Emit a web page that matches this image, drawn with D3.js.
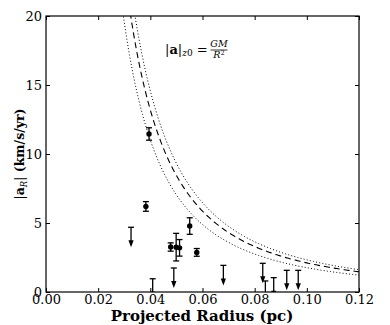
<!DOCTYPE html>
<html>
<head>
<meta charset="utf-8">
<script src="https://cdn.jsdelivr.net/npm/d3@7"></script>
<style>
  html, body { margin: 0; padding: 0; background: #fff; }
  svg { display: block; }
</style>
</head>
<body>
<svg id="chart" width="390" height="325"></svg>
<script>
// ---- data ----
const xTicks = [0.00, 0.02, 0.04, 0.06, 0.08, 0.10, 0.12];
const yTicks = [0, 5, 10, 15, 20];

// detections: projected radius (pc), |a_R| (km/s/yr), 1-sigma error
const detR   = [0.0383, 0.0395, 0.0478, 0.0499, 0.0512, 0.0551, 0.0578];
const detA   = [6.20, 11.45, 3.26, 3.25, 3.20, 4.78, 2.87];
const detErr = [0.35, 0.45, 0.30, 1.00, 0.60, 0.60, 0.28];

// upper limits
const ulR = [0.0326, 0.0409, 0.0490, 0.0680, 0.0831, 0.0841, 0.0873, 0.0923, 0.0967];
const ulA = [4.69, 0.96, 1.74, 1.93, 2.08, 0.80, 1.04, 1.57, 1.57];
const ulArrow = 1.45; // arrow length in km/s/yr

// GM/R^2 curves: coefficient (km/s/yr * pc^2)
const curveK     = [0.0176, 0.0211, 0.0233];
const curveStyle = ["dotted", "dashed", "dotted"];

// ---- layout ----
const svg = d3.select("#chart");
const L = 46, R = 359, T = 16, B = 292;
const x = d3.scaleLinear().domain([0, 0.12]).range([L, R]);
const y = d3.scaleLinear().domain([0, 20]).range([B, T]);
const serif = "DejaVu Serif";

svg.append("defs").append("clipPath").attr("id", "clip")
  .append("rect").attr("x", L).attr("y", T).attr("width", R - L).attr("height", B - T);

const plot = svg.append("g").attr("clip-path", "url(#clip)");

// curves
const rs = d3.range(0.02, 0.1205, 0.0005);
curveK.forEach((k, i) => {
  const line = d3.line().x(r => x(r)).y(r => y(k / (r * r)));
  plot.append("path")
    .attr("d", line(rs))
    .attr("fill", "none")
    .attr("stroke", "#000")
    .attr("stroke-width", curveStyle[i] === "dashed" ? 1.1 : 1)
    .attr("stroke-dasharray", curveStyle[i] === "dashed" ? "6,4" : "1,2.2");
});

// detections with error bars
detR.forEach((r, i) => {
  const cx = x(r);
  const y1 = y(detA[i] + detErr[i]), y0 = y(detA[i] - detErr[i]);
  const g = plot.append("g").attr("stroke", "#000").attr("stroke-width", 1.3);
  g.append("line").attr("x1", cx).attr("x2", cx).attr("y1", y1).attr("y2", y0);
  g.append("line").attr("x1", cx - 3).attr("x2", cx + 3).attr("y1", y1).attr("y2", y1);
  g.append("line").attr("x1", cx - 3).attr("x2", cx + 3).attr("y1", y0).attr("y2", y0);
  plot.append("circle").attr("cx", cx).attr("cy", y(detA[i])).attr("r", 2.7).attr("fill", "#000");
});

// upper limits with arrows
ulR.forEach((r, i) => {
  const cx = x(r);
  const yt = y(ulA[i]), yb = y(ulA[i] - ulArrow);
  const g = plot.append("g").attr("stroke", "#000").attr("stroke-width", 1.3);
  g.append("line").attr("x1", cx - 3).attr("x2", cx + 3).attr("y1", yt).attr("y2", yt);
  g.append("line").attr("x1", cx).attr("x2", cx).attr("y1", yt).attr("y2", yb - 4);
  plot.append("path")
    .attr("d", `M${cx - 2.6},${yb - 7} L${cx + 2.6},${yb - 7} L${cx},${yb} Z`)
    .attr("fill", "#000");
});

// axes
function styleAxis(g) {
  g.attr("font-family", serif).attr("font-size", 13);
  g.select(".domain").remove();
  g.selectAll(".tick line").attr("stroke", "#000").attr("stroke-width", 1);
  g.selectAll("text").attr("fill", "#000");
}
svg.append("g").attr("transform", `translate(0,${B})`)
  .call(d3.axisBottom(x).tickValues(xTicks).tickFormat(d3.format(".2f")).tickSizeInner(-4).tickSizeOuter(0).tickPadding(3))
  .call(styleAxis);
svg.append("g").attr("transform", `translate(0,${T})`)
  .call(d3.axisTop(x).tickValues(xTicks).tickFormat("").tickSizeInner(-4).tickSizeOuter(0))
  .call(styleAxis);
svg.append("g").attr("transform", `translate(${L},0)`)
  .call(d3.axisLeft(y).tickValues(yTicks).tickSizeInner(-4).tickSizeOuter(0).tickPadding(4))
  .call(styleAxis);
svg.append("g").attr("transform", `translate(${R},0)`)
  .call(d3.axisRight(y).tickValues(yTicks).tickFormat("").tickSizeInner(-4).tickSizeOuter(0))
  .call(styleAxis);

// frame
svg.append("rect").attr("x", L).attr("y", T).attr("width", R - L).attr("height", B - T)
  .attr("fill", "none").attr("stroke", "#000").attr("stroke-width", 1.2);

// x label
svg.append("text").attr("x", 202).attr("y", 321)
  .attr("text-anchor", "middle").attr("font-family", serif).attr("font-weight", "bold")
  .attr("font-size", 15).text("Projected Radius (pc)");

// y label
const yl = svg.append("text")
  .attr("transform", `translate(24,${(T + B) / 2}) rotate(-90)`)
  .attr("text-anchor", "middle").attr("font-family", serif).attr("font-size", 12.5);
yl.append("tspan").text("|");
yl.append("tspan").attr("font-weight", "bold").text("a");
yl.append("tspan").attr("font-style", "italic").attr("font-size", 8.5).attr("dy", 3).text("R");
yl.append("tspan").attr("dy", -3).text("|");
yl.append("tspan").attr("font-weight", "bold").text(" (km/s/yr)");

// annotation |a|_z0 = GM/R^2
const ann = svg.append("text").attr("x", 165).attr("y", 54)
  .attr("font-family", serif).attr("font-size", 13);
ann.append("tspan").text("|");
ann.append("tspan").attr("font-weight", "bold").text("a");
ann.append("tspan").text("|");
ann.append("tspan").attr("font-style", "italic").attr("font-size", 9).attr("dy", 2).text("z");
ann.append("tspan").attr("font-size", 9).text("0");
ann.append("tspan").attr("dy", -2).text(" = ");
svg.append("text").attr("x", 219).attr("y", 47).attr("text-anchor", "middle")
  .attr("font-family", serif).attr("font-style", "italic").attr("font-size", 9.5).text("GM");
svg.append("line").attr("x1", 210.5).attr("x2", 227.5).attr("y1", 50).attr("y2", 50)
  .attr("stroke", "#000").attr("stroke-width", 0.8);
const den = svg.append("text").attr("x", 219).attr("y", 57.5).attr("text-anchor", "middle")
  .attr("font-family", serif).attr("font-style", "italic").attr("font-size", 9.5);
den.append("tspan").text("R");
den.append("tspan").attr("font-style", "normal").attr("font-size", 6.5).attr("dy", -3).text("2");
</script>
</body>
</html>
